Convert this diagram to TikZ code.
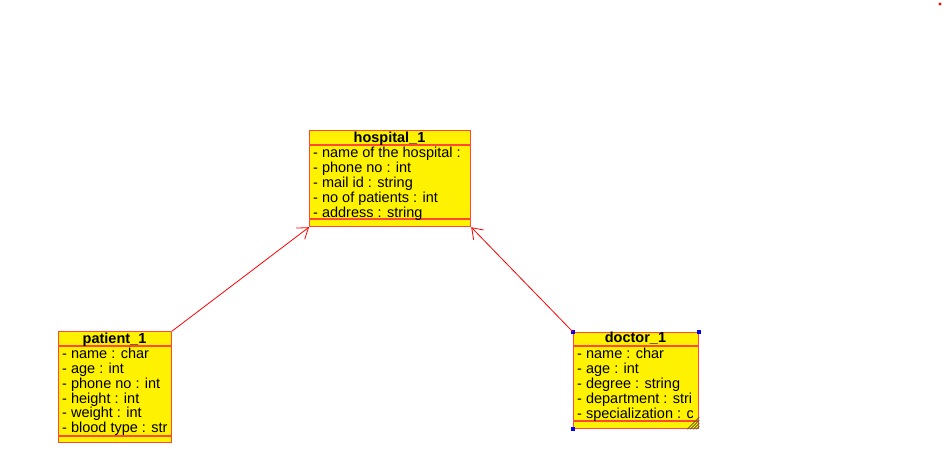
\documentclass[tikz,border=0pt]{standalone}
\usepackage{fontspec}
\setmainfont{Liberation Sans}
\usetikzlibrary{arrows.meta}
\definecolor{classred}{RGB}{255,72,56}
\definecolor{handleblue}{RGB}{0,0,255}
\definecolor{gripgray}{RGB}{110,100,40}
\tikzset{>=latex}
\tikzset{classbox/.style={draw=classred, fill=yellow, line width=1.2pt, rectangle, inner sep=0pt, anchor=north west}}
\tikzset{classsep/.style={draw=classred, line width=1.2pt}}
\tikzset{classtitle/.style={font=\bfseries\fontsize{14.5}{15}\selectfont, inner sep=0pt, anchor=base}}
\tikzset{attr/.style={font=\fontsize{14.5}{15}\selectfont, inner sep=0pt, anchor=base west}}
\tikzstyle{link} = [draw=red, line width=0.8pt, -{Straight Barb[length=10pt,width=14pt]}]

\begin{document}
\begin{tikzpicture}[x=1pt,y=-1pt]
\useasboundingbox (0,0) rectangle (945,469);

\def \rowgap {14.9} % distance between attribute baselines

  % hospital_1
  \node[classbox, minimum width=161pt, minimum height=96pt] (hospital) at (309,130) {};
  \draw[classsep] (309,145) -- (470,145) (309,219) -- (470,219);
  \node[classtitle] (hospitaltitle) at (389.5,142) {hospital\_1};
  \begin{scope}
    \clip (309,130) rectangle (469,226);
    \foreach \t [count=\i] in {- name of the hospital :, - phone no : int,
        - mail id : string, - no of patients : int, - address : string}
      \node[attr] (hospital\i) at (313, {157.5+\rowgap*(\i-1)}) {\t};
  \end{scope}

  % patient_1
  \node[classbox, minimum width=113pt, minimum height=111pt] (patient) at (58,331) {};
  \draw[classsep] (58,346) -- (171,346) (58,436) -- (171,436);
  \node[classtitle] (patienttitle) at (114.5,343) {patient\_1};
  \begin{scope}
    \clip (58,331) rectangle (170,442);
    \foreach \t [count=\i] in {- name : char, - age : int, - phone no : int,
        - height : int, - weight : int, - blood type : str}
      \node[attr] (patient\i) at (62, {358.3+\rowgap*(\i-1)}) {\t};
  \end{scope}

  % doctor_1
  \node[classbox, minimum width=125pt, minimum height=96pt] (doctor) at (573,332) {};
  \draw[classsep] (573,346) -- (698,346) (573,421) -- (698,421);
  \node[classtitle] (doctortitle) at (635.5,342.5) {doctor\_1};
  \begin{scope}
    \clip (573,332) rectangle (692.5,428);
    \foreach \t [count=\i] in {- name : char, - age : int, - degree : string,
        - department : string, - specialization : char}
      \node[attr] (doctor\i) at (577, {358.3+15.1*(\i-1)}) {\t};
  \end{scope}

  % selection handles of doctor_1
  \foreach \c in {north west, north east, south west}
    \fill[handleblue] (doctor.\c) ++(-2,-2) rectangle ++(4,4);
  \foreach \d in {3,6,9,12}
    \draw[gripgray, line width=0.9pt] ([xshift=-\d pt]doctor.south east) -- ([yshift=\d pt]doctor.south east);

  % associations
  \path[link] (patient.north east) -- (hospital.south west);
  \path[link] (doctor.north west) -- (hospital.south east);

  \fill[red] (940,4) circle (1.6);

\end{tikzpicture}
\end{document}
